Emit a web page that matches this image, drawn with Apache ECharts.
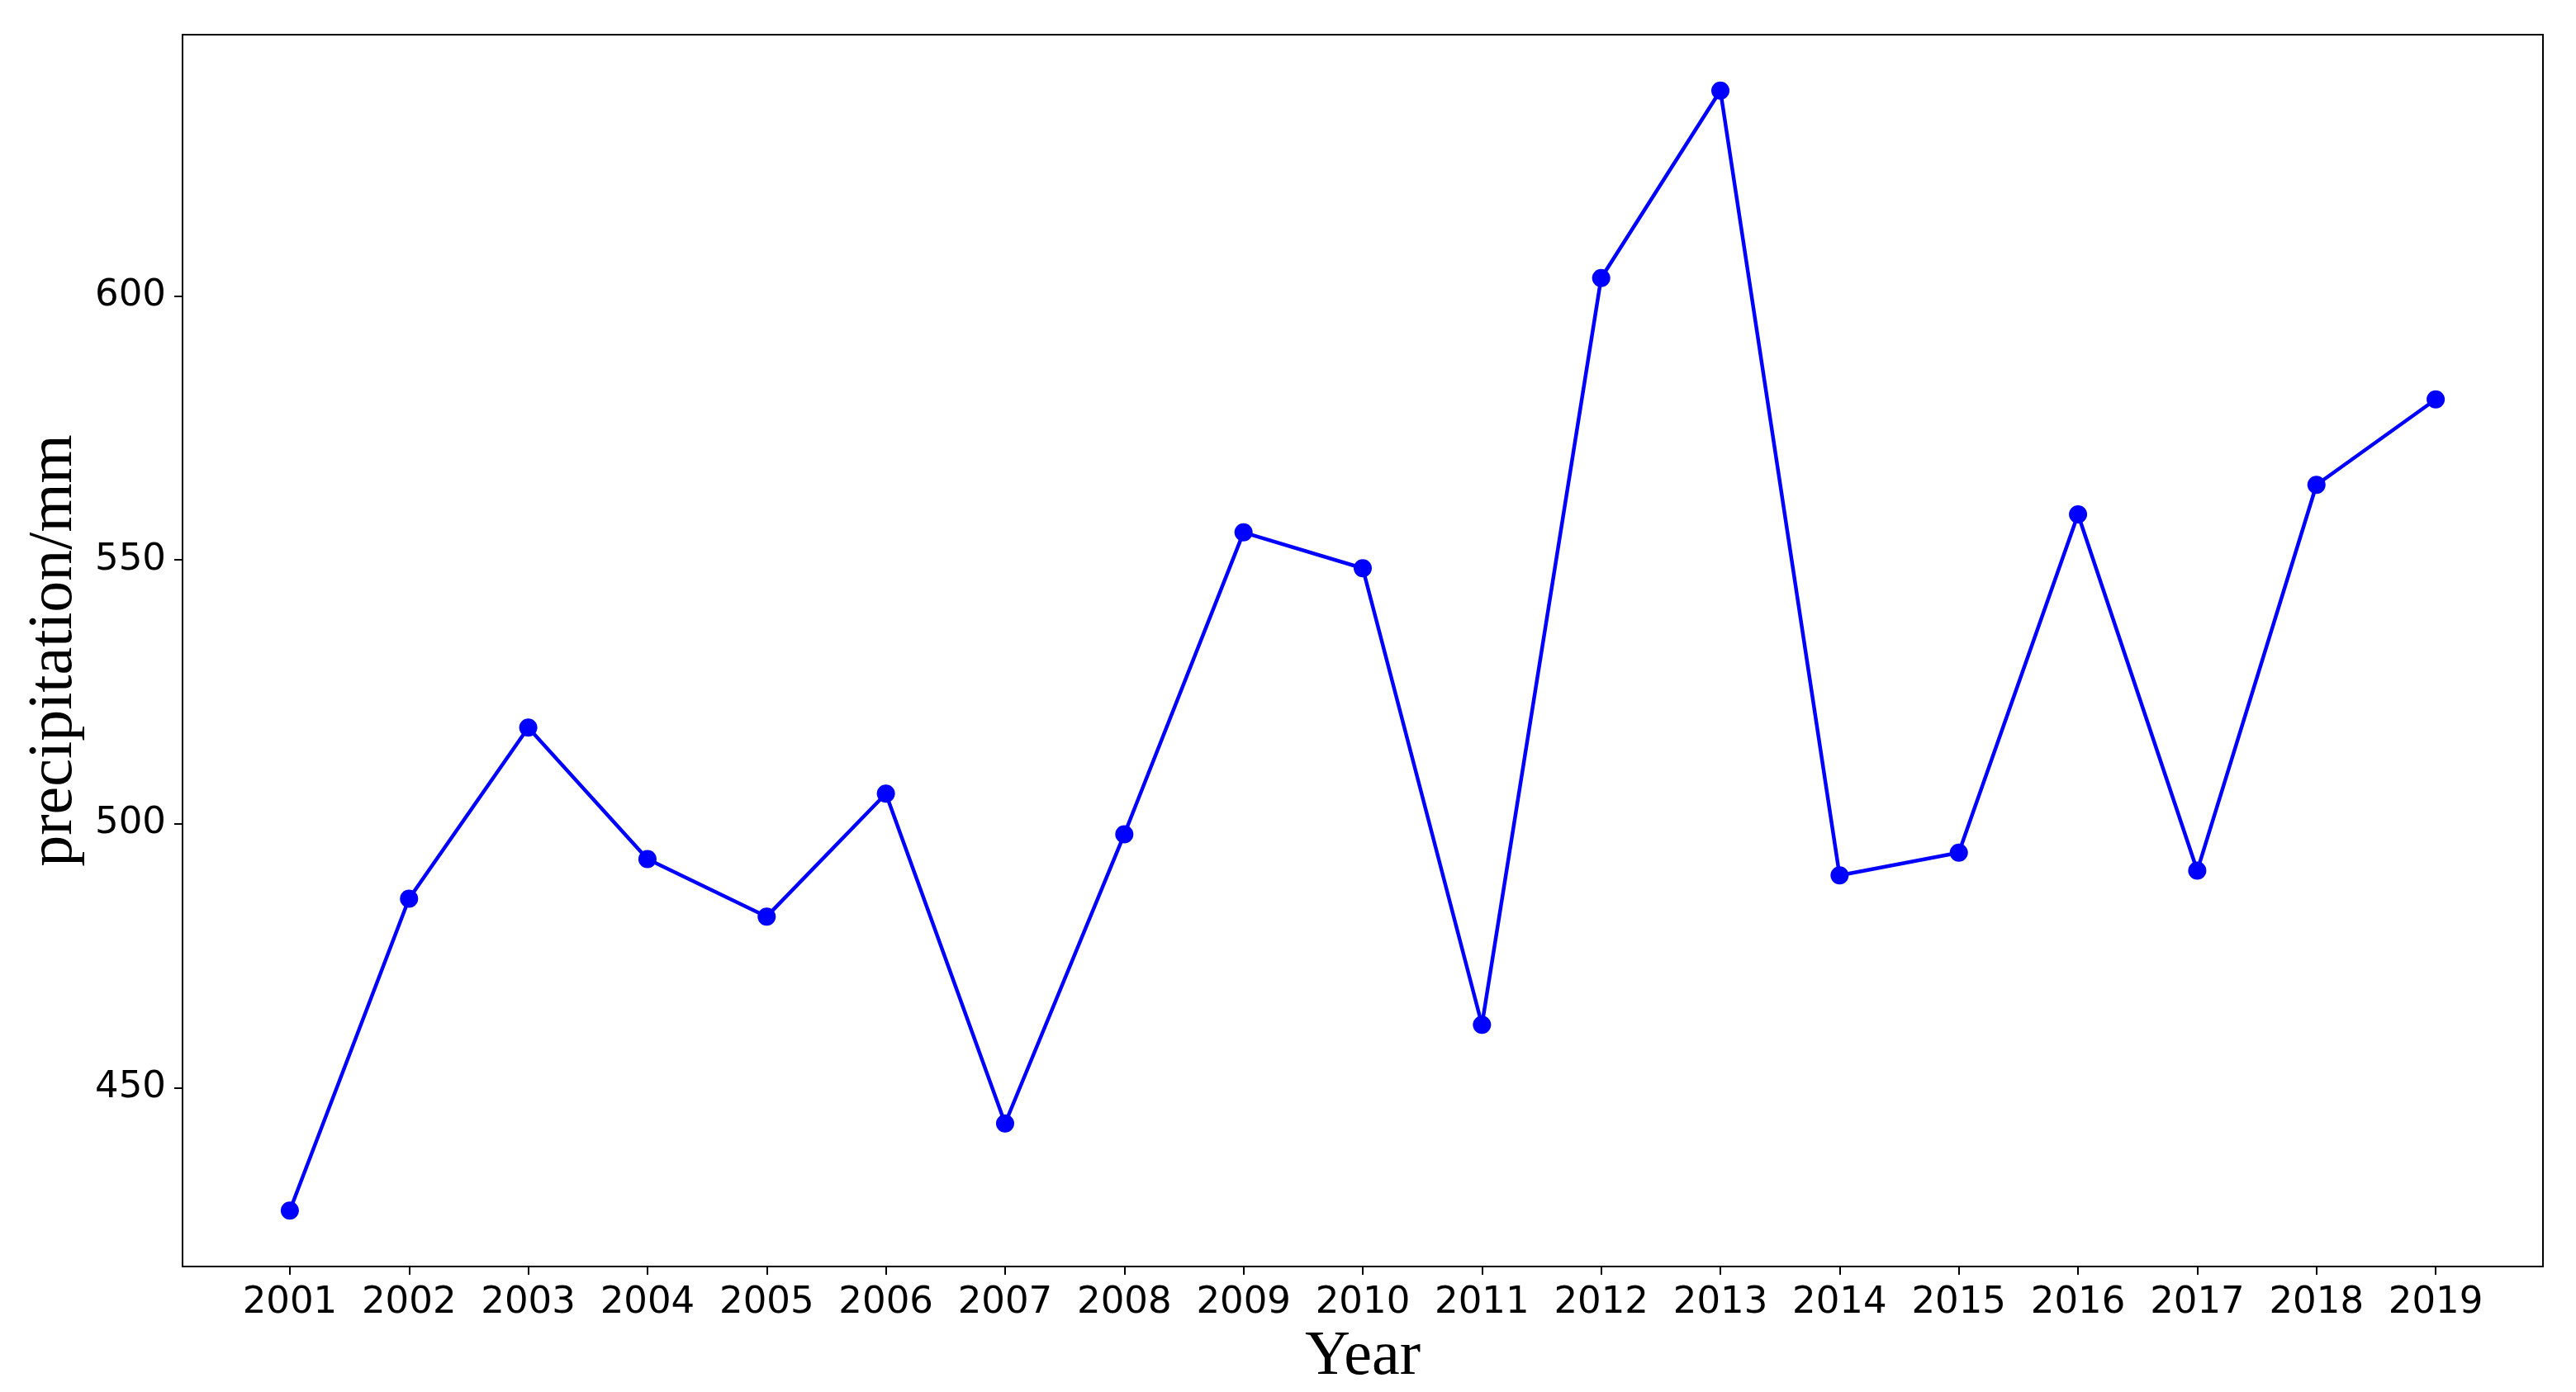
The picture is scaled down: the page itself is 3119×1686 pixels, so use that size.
<!DOCTYPE html>
<html>
<head>
<meta charset="utf-8">
<script src="https://cdn.jsdelivr.net/npm/echarts@6/dist/echarts.min.js"></script>
<style>
  html, body { margin: 0; padding: 0; background: #fff; }
  #box { width: 3119px; height: 1686px; }
</style>
</head>
<body>
<div id="box"></div>
<script>
// data
const years = [2001, 2002, 2003, 2004, 2005, 2006, 2007, 2008, 2009, 2010,
  2011, 2012, 2013, 2014, 2015, 2016, 2017, 2018, 2019];
const precipitation = [426.7, 485.8, 518.2, 493.3, 482.4, 505.7, 443.2, 498.0, 555.2, 548.4,
  461.9, 603.4, 638.9, 490.2, 494.5, 558.6, 491.1, 564.2, 580.4];
const yTicks = [450, 500, 550, 600];

const chartDom = document.getElementById('box');
const myChart = echarts.init(chartDom);

const tickFont = { fontFamily: 'DejaVu Sans', fontSize: 45, color: '#000' };
const nameFont = { fontFamily: 'Liberation Serif', fontSize: 76, color: '#000' };

var option = {
  animation: false,
  backgroundColor: '#fff',
  grid: {
    left: 221,
    right: 40,
    top: 42,
    bottom: 152,
    containLabel: false,
    outerBoundsMode: 'none',
    show: true,
    borderColor: '#000',
    borderWidth: 2
  },
  xAxis: {
    type: 'value',
    min: 2000.1,
    max: 2019.9,
    name: 'Year',
    nameLocation: 'middle',
    nameGap: 55,
    nameTextStyle: nameFont,
    axisLine: { show: true, onZero: false, lineStyle: { color: '#000', width: 2 } },
    axisTick: { show: true, inside: false, length: 10, customValues: years, lineStyle: { color: '#000', width: 2 } },
    axisLabel: Object.assign({ margin: 22, customValues: years, formatter: v => String(v) }, tickFont),
    splitLine: { show: false }
  },
  yAxis: {
    type: 'value',
    min: 416.1,
    max: 649.5,
    name: 'precipitation/mm',
    nameLocation: 'middle',
    nameGap: 117,
    nameTextStyle: nameFont,
    axisLine: { show: true, onZero: false, lineStyle: { color: '#000', width: 2 } },
    axisTick: { show: true, inside: false, length: 10, customValues: yTicks, lineStyle: { color: '#000', width: 2 } },
    axisLabel: Object.assign({ margin: 20, customValues: yTicks, formatter: v => String(v) }, tickFont),
    splitLine: { show: false }
  },
  series: [
    {
      name: 'precipitation',
      type: 'line',
      data: years.map((y, i) => [y, precipitation[i]]),
      symbol: 'circle',
      symbolSize: 22,
      lineStyle: { color: '#0000ff', width: 4.5 },
      itemStyle: { color: '#0000ff' }
    }
  ]
};
option && myChart.setOption(option);
</script>
</body>
</html>
